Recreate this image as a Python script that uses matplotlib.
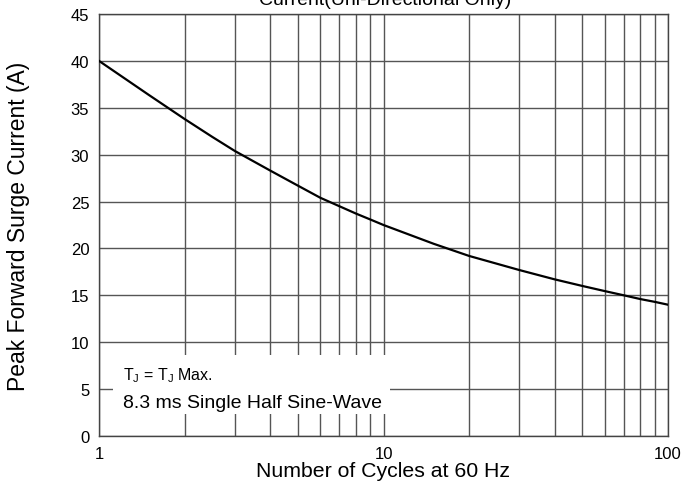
import matplotlib
matplotlib.use("Agg")
import matplotlib.pyplot as plt
from matplotlib.ticker import FixedLocator, NullFormatter
from matplotlib.patches import Rectangle

plt.rcParams['font.family'] = ['Liberation Sans', 'DejaVu Sans']

cycles = [1, 1.5, 2, 2.5, 3, 4, 5, 6, 7, 8, 9, 10, 15, 20, 30, 40, 50, 60, 70, 80, 90, 100]
current = [40.0, 36.35, 33.8, 31.9, 30.4, 28.3, 26.7, 25.4, 24.5, 23.72, 23.08, 22.5, 20.5,
           19.2, 17.7, 16.7, 16.0, 15.45, 15.0, 14.6, 14.3, 14.0]
x_ticks = [1, 10, 100]
x_tick_labels = ["1", "10", "100"]
y_ticks = [0, 5, 10, 15, 20, 25, 30, 35, 40, 45]

W, H = 686, 502
fig = plt.figure(figsize=(W/100, H/100), dpi=100)
ax = fig.add_axes([99/W, 1 - 437/H, (668-99)/W, (437-15)/H])

ax.set_xscale('log')
ax.set_xlim(1, 100)
ax.set_ylim(0, 45)

minor = [m * d for d in (1, 10) for m in range(2, 10)]
ax.xaxis.set_major_locator(FixedLocator(x_ticks))
ax.set_xticklabels(x_tick_labels)
ax.xaxis.set_minor_locator(FixedLocator(minor))
ax.xaxis.set_minor_formatter(NullFormatter())
ax.set_yticks(y_ticks)

ax.grid(True, which='both', axis='x', color='#555555', linewidth=1.0)
ax.grid(True, which='major', axis='y', color='#555555', linewidth=1.0)
ax.tick_params(which='both', length=0, labelsize=12, colors='black')
ax.tick_params(axis='y', pad=7)
ax.tick_params(axis='x', pad=7)
for s in ax.spines.values():
    s.set_color('#444444')
    s.set_linewidth(1.0)

ax.plot(cycles, current, color='black', linewidth=1.6, zorder=3)

ax.set_xlabel('Number of Cycles at 60 Hz', fontsize=15.3, labelpad=0)
ax.set_ylabel('Peak Forward Surge Current (A)', fontsize=16.5, labelpad=12)
ax.yaxis.set_label_coords(-(99-30)/(668-99), (437-226)/(437-15))

# white annotation box (pixel box x 113-390, y 356-415)
def px2data(px, py):
    inv = ax.transData.inverted()
    return inv.transform(ax.transAxes.transform(((px-99)/(668-99), (437-py)/(437-15))))

x0, y0 = px2data(113, 415)
x1, y1 = px2data(390, 356)
ax.add_patch(Rectangle((x0, y0), x1 - x0, y1 - y0, facecolor='white',
                       edgecolor='none', zorder=4))
ax.text((123-99)/(668-99), (437-376)/(437-15), r'T$_\mathregular{J}$ = T$_\mathregular{J}$ Max.',
        fontsize=11.5, transform=ax.transAxes, va='center', ha='left', zorder=5)
ax.text((123-99)/(668-99), (437-404)/(437-15), '8.3 ms Single Half Sine-Wave',
        fontsize=14, transform=ax.transAxes, va='center', ha='left', zorder=5)

fig.text(385/W, 1 - 5/H, 'Current(Uni-Directional Only)', fontsize=14,
         ha='center', va='baseline')

fig.savefig('out.png', dpi=100)
